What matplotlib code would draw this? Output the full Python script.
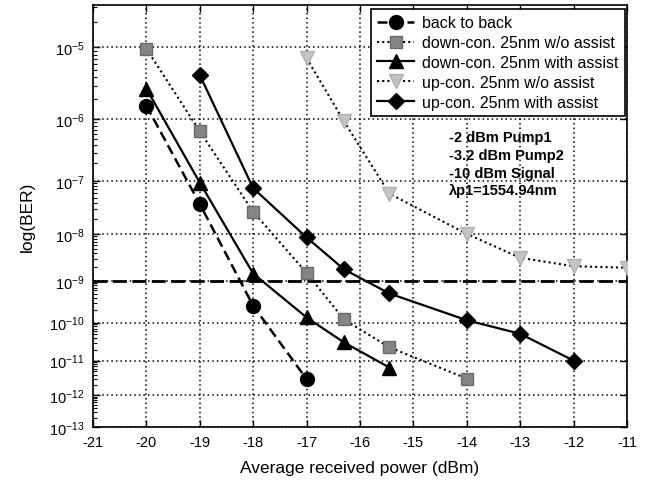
import matplotlib
matplotlib.use('Agg')
import matplotlib.pyplot as plt
from matplotlib.ticker import FixedLocator, FixedFormatter
import numpy as np

plt.rcParams['font.family'] = ['Liberation Sans', 'DejaVu Sans']

# BER curves
x_b2b = [-20, -19, -18, -17]
ber_b2b = [1.6e-6, 3.8e-8, 2.6e-10, 3.0e-12]

x_dn_wo = [-20, -19, -18, -17, -16.3, -15.45, -14]
ber_dn_wo = [9.5e-6, 6.6e-7, 2.7e-8, 1.5e-9, 1.2e-10, 2.3e-11, 3.1e-12]

x_dn_w = [-20, -19, -18, -17, -16.3, -15.45]
ber_dn_w = [2.8e-6, 9.3e-8, 1.45e-9, 1.35e-10, 3.1e-11, 6.4e-12]

x_up_wo = [-17, -16.3, -15.45, -14, -13, -12, -11]
ber_up_wo = [7.2e-6, 9.4e-7, 5.9e-8, 1.0e-8, 3.2e-9, 2.1e-9, 1.95e-9]

x_up_w = [-19, -18, -17, -16.3, -15.45, -14, -13, -12]
ber_up_w = [4.3e-6, 7.4e-8, 8.5e-9, 1.8e-9, 5.1e-10, 1.15e-10, 5.2e-11, 1.0e-11]

labels = ['back to back', 'down-con. 25nm w/o assist', 'down-con. 25nm with assist',
          'up-con. 25nm w/o assist', 'up-con. 25nm with assist']
notes = ['-2 dBm Pump1', '-3.2 dBm Pump2', '-10 dBm Signal', '\u03bbp1=1554.94nm']
exponents = list(range(-5, -14, -1))
x_ticks = list(range(-21, -10))


def forward(y):
    y = np.clip(np.asarray(y, dtype=float), 1e-300, 0.999999)
    return -np.log10(-np.log10(y))


def inverse(v):
    return 10.0 ** (-(10.0 ** (-np.asarray(v, dtype=float))))


fig = plt.figure(figsize=(6.47, 4.85), dpi=100)
ax = fig.add_axes([0.1437, 0.1175, 0.8253, 0.8701])
ax.set_yscale('function', functions=(forward, inverse))

ax.axhline(1e-9, color='black', lw=2.0, ls=(0, (5, 2)), zorder=2)

ax.plot(x_b2b, ber_b2b, color='black', lw=1.8, ls=(0, (4, 2)),
        marker='o', ms=10, mfc='black', mec='black', label=labels[0], zorder=3)
ax.plot(x_dn_wo, ber_dn_wo, color='black', lw=1.5, ls=(0, (1, 1.5)),
        marker='s', ms=9, mfc='#858585', mec='#6a6a6a', label=labels[1], zorder=3)
ax.plot(x_dn_w, ber_dn_w, color='black', lw=1.6, ls='-',
        marker='^', ms=10, mfc='black', mec='black', label=labels[2], zorder=3)
ax.plot(x_up_wo, ber_up_wo, color='black', lw=1.5, ls=(0, (1, 1.5)),
        marker='v', ms=10, mfc='#c4c4c4', mec='#b0b0b0', label=labels[3], zorder=3)
ax.plot(x_up_w, ber_up_w, color='black', lw=1.6, ls='-',
        marker='D', ms=8, mfc='black', mec='black', label=labels[4], zorder=3)

ax.set_xlim(-21, -11)
ax.set_ylim(1e-13, 10 ** -4.5)

major = [10.0 ** e for e in exponents]
ax.yaxis.set_major_locator(FixedLocator(major))
ax.yaxis.set_major_formatter(FixedFormatter([r'$\mathregular{10^{%d}}$' % e for e in exponents]))
minor = []
for e in range(-13, -4):
    for k in range(2, 10):
        v = k * 10.0 ** e
        if v < 10 ** -4.5:
            minor.append(v)
ax.yaxis.set_minor_locator(FixedLocator(minor))
ax.yaxis.set_minor_formatter(FixedFormatter([''] * len(minor)))
ax.set_xticks(x_ticks)
ax.set_xticklabels([str(t) for t in x_ticks])

ax.tick_params(axis='both', which='major', direction='in', length=5, width=1,
               top=True, right=True, labelsize=10.5, pad=6)
ax.tick_params(axis='y', which='minor', direction='in', length=3, width=0.8, right=False)
ax.grid(True, which='major', color='black', ls=(0, (1, 2)), lw=1.1)
for s in ax.spines.values():
    s.set_linewidth(1.2)

ax.set_xlabel('Average received power (dBm)', fontsize=12.5, labelpad=8)
ax.set_ylabel('log(BER)', fontsize=12.5, labelpad=10)

leg = ax.legend(loc='upper right', bbox_to_anchor=(0.996, 0.9905), borderaxespad=0,
                fontsize=11.5, frameon=True, fancybox=False, edgecolor='black',
                framealpha=1, handlelength=2.3, labelspacing=0.3, borderpad=0.4,
                handletextpad=0.5)
leg.get_frame().set_linewidth(1.2)

for i, t in enumerate(notes):
    ax.text(0.667, 0.687 - i * 0.042, t, transform=ax.transAxes, fontsize=10.5,
            fontweight='bold', va='center', ha='left')

fig.savefig('out.png', dpi=100)
